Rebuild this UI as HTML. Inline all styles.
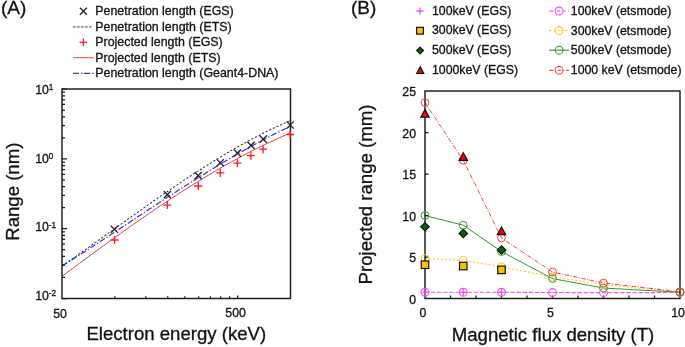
<!DOCTYPE html>
<html><head><meta charset="utf-8"><style>
html,body{margin:0;padding:0;background:#fff;}
body{width:685px;height:347px;overflow:hidden;font-family:"Liberation Sans",sans-serif;}
svg{display:block;will-change:transform;}
text{stroke:#111;stroke-width:0.3px;}
</style></head><body>
<svg width="685" height="347" viewBox="0 0 685 347">
<defs><clipPath id="clipA"><rect x="62.0" y="89.0" width="228.5" height="209.5"/></clipPath></defs>
<rect width="685" height="347" fill="#fff"/>
<text x="0.9" y="14.1" font-size="19" font-family="'Liberation Sans', sans-serif" fill="#111">(A)</text>
<text x="351" y="14.1" font-size="19" font-family="'Liberation Sans', sans-serif" fill="#111">(B)</text>
<text x="95.3" y="15.4" font-size="12.4" font-family="'Liberation Sans', sans-serif" fill="#111">Penetration length (EGS)</text>
<text x="95.3" y="30.7" font-size="12.4" font-family="'Liberation Sans', sans-serif" fill="#111">Penetration length (ETS)</text>
<text x="95.3" y="46.1" font-size="12.4" font-family="'Liberation Sans', sans-serif" fill="#111">Projected length (EGS)</text>
<text x="95.3" y="61.5" font-size="12.4" font-family="'Liberation Sans', sans-serif" fill="#111">Projected length (ETS)</text>
<text x="95.3" y="77.0" font-size="12.4" font-family="'Liberation Sans', sans-serif" fill="#111">Penetration length (Geant4-DNA)</text>
<path d="M79.90,7.80L86.90,14.80M79.90,14.80L86.90,7.80" stroke="#222" stroke-width="1.3" fill="none"/>
<line x1="73.2" y1="26.9" x2="91.4" y2="26.9" stroke="#555" stroke-width="1.1" stroke-dasharray="2.4,1.6"/>
<path d="M79.60,42.40L87.20,42.40M83.40,38.60L83.40,46.20" stroke="#ff1a1a" stroke-width="1.3" fill="none"/>
<line x1="73.2" y1="57.6" x2="93.6" y2="57.6" stroke="#ee6a6a" stroke-width="1.3"/>
<line x1="73.0" y1="73.4" x2="93.6" y2="73.4" stroke="#3535f0" stroke-width="1.2" stroke-dasharray="6,2,1.3,1.9"/>
<g clip-path="url(#clipA)">
<polyline points="62.00,266.00 67.86,261.93 73.72,257.82 79.58,253.70 85.44,249.55 91.29,245.39 97.15,241.21 103.01,237.03 108.87,232.84 114.73,228.65 120.59,224.46 126.45,220.28 132.31,216.10 138.17,211.94 144.03,207.80 149.88,203.68 155.74,199.58 161.60,195.51 167.46,191.48 173.32,187.47 179.18,183.51 185.04,179.59 190.90,175.72 196.76,171.90 202.62,168.13 208.47,164.42 214.33,160.77 220.19,157.19 226.05,153.67 231.91,150.23 237.77,146.87 243.63,143.58 249.49,140.38 255.35,137.26 261.21,134.24 267.06,131.31 272.92,128.48 278.78,125.76 284.64,123.13 290.50,120.62" fill="none" stroke="#3a3a3a" stroke-width="1.05" stroke-dasharray="2.2,1.8"/>
<polyline points="62.00,266.00 67.86,262.33 73.72,258.63 79.58,254.90 85.44,251.14 91.29,247.35 97.15,243.54 103.01,239.72 108.87,235.88 114.73,232.03 120.59,228.17 126.45,224.30 132.31,220.43 138.17,216.56 144.03,212.70 149.88,208.84 155.74,204.99 161.60,201.15 167.46,197.33 173.32,193.53 179.18,189.75 185.04,186.00 190.90,182.27 196.76,178.58 202.62,174.92 208.47,171.30 214.33,167.71 220.19,164.18 226.05,160.69 231.91,157.25 237.77,153.86 243.63,150.53 249.49,147.26 255.35,144.05 261.21,140.91 267.06,137.83 272.92,134.83 278.78,131.90 284.64,129.05 290.50,126.28" fill="none" stroke="#3030f5" stroke-width="1.2" stroke-dasharray="6,2,1.3,1.9"/>
<polyline points="62.00,276.30 67.86,271.95 73.72,267.60 79.58,263.27 85.44,258.95 91.29,254.64 97.15,250.35 103.01,246.09 108.87,241.84 114.73,237.62 120.59,233.42 126.45,229.25 132.31,225.11 138.17,221.01 144.03,216.94 149.88,212.91 155.74,208.91 161.60,204.96 167.46,201.05 173.32,197.19 179.18,193.38 185.04,189.61 190.90,185.90 196.76,182.25 202.62,178.65 208.47,175.11 214.33,171.63 220.19,168.21 226.05,164.86 231.91,161.58 237.77,158.37 243.63,155.23 249.49,152.17 255.35,149.18 261.21,146.27 267.06,143.44 272.92,140.70 278.78,138.04 284.64,135.47 290.50,132.98" fill="none" stroke="#ee4040" stroke-width="1.0"/>
</g>
<rect x="62.0" y="89.0" width="228.5" height="209.5" fill="none" stroke="#1a1a1a" stroke-width="1.45"/>
<path d="M62.0,298.50h5 M62.0,277.48h3 M62.0,265.18h3 M62.0,256.46h3 M62.0,249.69h3 M62.0,244.16h3 M62.0,239.48h3 M62.0,235.43h3 M62.0,231.86h3 M62.0,228.67h5 M62.0,207.64h3 M62.0,195.35h3 M62.0,186.62h3 M62.0,179.86h3 M62.0,174.33h3 M62.0,169.65h3 M62.0,165.60h3 M62.0,162.03h3 M62.0,158.83h5 M62.0,137.81h3 M62.0,125.51h3 M62.0,116.79h3 M62.0,110.02h3 M62.0,104.49h3 M62.0,99.82h3 M62.0,95.77h3 M62.0,92.20h3 M62.0,89.0h5 M114.87,298.5v-2.2 M145.80,298.5v-2.2 M167.74,298.5v-2.2 M184.76,298.5v-2.2 M198.67,298.5v-2.2 M210.42,298.5v-2.2 M220.61,298.5v-2.2 M229.59,298.5v-2.2 M237.63,298.5v-3" stroke="#1a1a1a" stroke-width="1.25" fill="none"/>
<path d="M110.80,225.70L118.00,232.90M110.80,232.90L118.00,225.70" stroke="#222" stroke-width="1.3" fill="none"/>
<path d="M163.70,191.00L170.90,198.20M163.70,198.20L170.90,191.00" stroke="#222" stroke-width="1.3" fill="none"/>
<path d="M194.60,172.00L201.80,179.20M194.60,179.20L201.80,172.00" stroke="#222" stroke-width="1.3" fill="none"/>
<path d="M216.70,159.10L223.90,166.30M216.70,166.30L223.90,159.10" stroke="#222" stroke-width="1.3" fill="none"/>
<path d="M233.80,149.50L241.00,156.70M233.80,156.70L241.00,149.50" stroke="#222" stroke-width="1.3" fill="none"/>
<path d="M247.40,141.80L254.60,149.00M247.40,149.00L254.60,141.80" stroke="#222" stroke-width="1.3" fill="none"/>
<path d="M259.60,135.50L266.80,142.70M259.60,142.70L266.80,135.50" stroke="#222" stroke-width="1.3" fill="none"/>
<path d="M286.60,121.40L293.80,128.60M286.60,128.60L293.80,121.40" stroke="#222" stroke-width="1.3" fill="none"/>
<path d="M110.60,240.00L118.60,240.00M114.60,236.00L114.60,244.00" stroke="#ff1a1a" stroke-width="1.3" fill="none"/>
<path d="M163.30,205.10L171.30,205.10M167.30,201.10L167.30,209.10" stroke="#ff1a1a" stroke-width="1.3" fill="none"/>
<path d="M194.30,186.00L202.30,186.00M198.30,182.00L198.30,190.00" stroke="#ff1a1a" stroke-width="1.3" fill="none"/>
<path d="M216.30,172.90L224.30,172.90M220.30,168.90L220.30,176.90" stroke="#ff1a1a" stroke-width="1.3" fill="none"/>
<path d="M233.40,163.20L241.40,163.20M237.40,159.20L237.40,167.20" stroke="#ff1a1a" stroke-width="1.3" fill="none"/>
<path d="M246.90,155.70L254.90,155.70M250.90,151.70L250.90,159.70" stroke="#ff1a1a" stroke-width="1.3" fill="none"/>
<path d="M259.10,149.20L267.10,149.20M263.10,145.20L263.10,153.20" stroke="#ff1a1a" stroke-width="1.3" fill="none"/>
<path d="M286.20,134.50L294.20,134.50M290.20,130.50L290.20,138.50" stroke="#ff1a1a" stroke-width="1.3" fill="none"/>
<text x="35.2" y="93.6" font-size="12.3" font-family="'Liberation Sans', sans-serif" fill="#111">10</text>
<text x="48.7" y="89.69999999999999" font-size="8.2" font-family="'Liberation Sans', sans-serif" fill="#111">1</text>
<text x="35.2" y="162.5" font-size="12.3" font-family="'Liberation Sans', sans-serif" fill="#111">10</text>
<text x="48.7" y="158.6" font-size="8.2" font-family="'Liberation Sans', sans-serif" fill="#111">0</text>
<text x="35.2" y="231.4" font-size="12.3" font-family="'Liberation Sans', sans-serif" fill="#111">10</text>
<text x="48.7" y="227.5" font-size="8.2" font-family="'Liberation Sans', sans-serif" fill="#111">-1</text>
<text x="35.2" y="300.3" font-size="12.3" font-family="'Liberation Sans', sans-serif" fill="#111">10</text>
<text x="48.7" y="296.40000000000003" font-size="8.2" font-family="'Liberation Sans', sans-serif" fill="#111">-2</text>
<text x="60" y="317.5" font-size="12.3" text-anchor="middle" font-family="'Liberation Sans', sans-serif" fill="#111">50</text>
<text x="235.6" y="317.3" font-size="12.3" text-anchor="middle" font-family="'Liberation Sans', sans-serif" fill="#111">500</text>
<text x="176.3" y="340" font-size="18.6" text-anchor="middle" font-family="'Liberation Sans', sans-serif" fill="#111">Electron energy (keV)</text>
<text transform="translate(18.6,191.7) rotate(-90)" x="0" y="0" font-size="18.6" text-anchor="middle" font-family="'Liberation Sans', sans-serif" fill="#111">Range (nm)</text>
<text x="432" y="14.9" font-size="12.3" font-family="'Liberation Sans', sans-serif" fill="#111">100keV (EGS)</text>
<text x="432" y="34.4" font-size="12.3" font-family="'Liberation Sans', sans-serif" fill="#111">300keV (EGS)</text>
<text x="432" y="54.4" font-size="12.3" font-family="'Liberation Sans', sans-serif" fill="#111">500keV (EGS)</text>
<text x="432" y="74.2" font-size="12.3" font-family="'Liberation Sans', sans-serif" fill="#111">1000keV (EGS)</text>
<text x="570.8" y="15.0" font-size="12.3" font-family="'Liberation Sans', sans-serif" fill="#111">100keV (etsmode)</text>
<text x="570.8" y="34.6" font-size="12.3" font-family="'Liberation Sans', sans-serif" fill="#111">300keV (etsmode)</text>
<text x="570.8" y="54.4" font-size="12.3" font-family="'Liberation Sans', sans-serif" fill="#111">500keV (etsmode)</text>
<text x="570.8" y="74.2" font-size="12.3" font-family="'Liberation Sans', sans-serif" fill="#111">1000 keV (etsmode)</text>
<path d="M416.50,11.00L423.50,11.00M420.00,7.50L420.00,14.50" stroke="#f050f0" stroke-width="1.3" fill="none"/>
<rect x="416.60" y="27.30" width="6.8" height="6.8" fill="#ffc000" stroke="#111" stroke-width="1.2"/>
<path d="M420.10,47.20L423.50,50.60L420.10,54.00L416.70,50.60Z" fill="#006a00" stroke="#111" stroke-width="1.2"/>
<path d="M420.20,66.90L423.70,73.50L416.70,73.50Z" fill="#ff0000" stroke="#111" stroke-width="1.2" stroke-linejoin="miter"/>
<line x1="549" y1="11.0" x2="553.5" y2="11.0" stroke="#f050f0" stroke-width="1.1"/>
<line x1="556.7" y1="11.0" x2="560.2" y2="11.0" stroke="#f050f0" stroke-width="1.1"/>
<line x1="563.4" y1="11.0" x2="565.8" y2="11.0" stroke="#f050f0" stroke-width="1.1"/>
<line x1="567.8" y1="11.0" x2="569.0" y2="11.0" stroke="#f050f0" stroke-width="1.1"/>
<circle cx="559.10" cy="11.00" r="3.9" fill="none" stroke="#f050f0" stroke-width="1.1"/>
<line x1="549" y1="30.5" x2="551" y2="30.5" stroke="#f8cc2a" stroke-width="1.1"/>
<line x1="553.3" y1="30.5" x2="555.5" y2="30.5" stroke="#f8cc2a" stroke-width="1.1"/>
<line x1="557.3" y1="30.5" x2="559.3" y2="30.5" stroke="#f8cc2a" stroke-width="1.1"/>
<line x1="561.1" y1="30.5" x2="562.5" y2="30.5" stroke="#f8cc2a" stroke-width="1.1"/>
<line x1="564.6" y1="30.5" x2="567" y2="30.5" stroke="#f8cc2a" stroke-width="1.1"/>
<circle cx="559.10" cy="30.50" r="3.9" fill="none" stroke="#f8cc2a" stroke-width="1.1"/>
<line x1="549" y1="50.2" x2="569.2" y2="50.2" stroke="#339933" stroke-width="1.1"/>
<circle cx="559.10" cy="50.20" r="3.9" fill="none" stroke="#339933" stroke-width="1.1"/>
<line x1="549" y1="70.3" x2="553.5" y2="70.3" stroke="#f04848" stroke-width="1.1"/>
<line x1="555" y1="70.3" x2="555.8" y2="70.3" stroke="#f04848" stroke-width="1.1"/>
<line x1="557.7" y1="70.3" x2="561.3" y2="70.3" stroke="#f04848" stroke-width="1.1"/>
<line x1="563.4" y1="70.3" x2="564.2" y2="70.3" stroke="#f04848" stroke-width="1.1"/>
<line x1="566" y1="70.3" x2="569.2" y2="70.3" stroke="#f04848" stroke-width="1.1"/>
<circle cx="559.10" cy="70.30" r="3.9" fill="none" stroke="#f04848" stroke-width="1.1"/>
<g>
<polyline points="425.00,292.27 463.25,292.27 501.50,292.27 552.50,292.52 603.50,292.69 680.00,292.52" fill="none" stroke="#f050f0" stroke-width="1.1" stroke-dasharray="4.4,1.7"/>
<polyline points="425.00,258.41 463.25,260.32 501.50,266.79 552.50,276.92 603.50,284.64 680.00,292.27" fill="none" stroke="#f8cc2a" stroke-width="1.1" stroke-dasharray="2,2"/>
<polyline points="425.00,215.50 463.25,225.21 501.50,251.60 552.50,278.58 603.50,288.04 680.00,292.27" fill="none" stroke="#339933" stroke-width="1.0"/>
<polyline points="425.00,102.62 463.25,160.31 501.50,237.91 552.50,272.02 603.50,282.98 680.00,291.69" fill="none" stroke="#f04848" stroke-width="1.0" stroke-dasharray="4.5,1.5,1,1.5"/>
</g>
<rect x="425.0" y="91.0" width="255.0" height="207.5" fill="none" stroke="#1a1a1a" stroke-width="1.45"/>
<path d="M425.0,257.00h3.5 M425.0,215.50h3.5 M425.0,174.00h3.5 M425.0,132.50h3.5 M450.50,298.5v-3 M476.00,298.5v-3 M501.50,298.5v-3 M527.00,298.5v-3 M552.50,298.5v-3 M578.00,298.5v-3 M603.50,298.5v-3 M629.00,298.5v-3 M654.50,298.5v-3" stroke="#1a1a1a" stroke-width="1.25" fill="none"/>
<circle cx="425.00" cy="292.27" r="3.9" fill="none" stroke="#f050f0" stroke-width="1.1"/>
<circle cx="463.25" cy="292.27" r="3.9" fill="none" stroke="#f050f0" stroke-width="1.1"/>
<circle cx="501.50" cy="292.27" r="3.9" fill="none" stroke="#f050f0" stroke-width="1.1"/>
<circle cx="552.50" cy="292.52" r="3.9" fill="none" stroke="#f050f0" stroke-width="1.1"/>
<circle cx="603.50" cy="292.69" r="3.9" fill="none" stroke="#f050f0" stroke-width="1.1"/>
<circle cx="680.00" cy="292.52" r="3.9" fill="none" stroke="#f050f0" stroke-width="1.1"/>
<circle cx="425.00" cy="258.41" r="3.9" fill="none" stroke="#f8cc2a" stroke-width="1.0"/>
<circle cx="463.25" cy="260.32" r="3.9" fill="none" stroke="#f8cc2a" stroke-width="1.0"/>
<circle cx="501.50" cy="266.79" r="3.9" fill="none" stroke="#f8cc2a" stroke-width="1.0"/>
<circle cx="552.50" cy="276.92" r="3.9" fill="none" stroke="#f8cc2a" stroke-width="1.0"/>
<circle cx="603.50" cy="284.64" r="3.9" fill="none" stroke="#f8cc2a" stroke-width="1.0"/>
<circle cx="680.00" cy="292.27" r="3.9" fill="none" stroke="#f8cc2a" stroke-width="1.0"/>
<circle cx="425.00" cy="215.50" r="3.9" fill="none" stroke="#339933" stroke-width="1.0"/>
<circle cx="463.25" cy="225.21" r="3.9" fill="none" stroke="#339933" stroke-width="1.0"/>
<circle cx="501.50" cy="251.60" r="3.9" fill="none" stroke="#339933" stroke-width="1.0"/>
<circle cx="552.50" cy="278.58" r="3.9" fill="none" stroke="#339933" stroke-width="1.0"/>
<circle cx="603.50" cy="288.04" r="3.9" fill="none" stroke="#339933" stroke-width="1.0"/>
<circle cx="680.00" cy="292.27" r="3.9" fill="none" stroke="#339933" stroke-width="1.0"/>
<circle cx="425.00" cy="102.62" r="3.9" fill="none" stroke="#f04848" stroke-width="1.0"/>
<circle cx="463.25" cy="160.31" r="3.9" fill="none" stroke="#f04848" stroke-width="1.0"/>
<circle cx="501.50" cy="237.91" r="3.9" fill="none" stroke="#f04848" stroke-width="1.0"/>
<circle cx="552.50" cy="272.02" r="3.9" fill="none" stroke="#f04848" stroke-width="1.0"/>
<circle cx="603.50" cy="282.98" r="3.9" fill="none" stroke="#f04848" stroke-width="1.0"/>
<circle cx="680.00" cy="291.69" r="3.9" fill="none" stroke="#f04848" stroke-width="1.0"/>
<path d="M421.00,292.27L429.00,292.27M425.00,288.27L425.00,296.27" stroke="#f050f0" stroke-width="1.2" fill="none"/>
<path d="M459.25,292.27L467.25,292.27M463.25,288.27L463.25,296.27" stroke="#f050f0" stroke-width="1.2" fill="none"/>
<path d="M497.50,292.27L505.50,292.27M501.50,288.27L501.50,296.27" stroke="#f050f0" stroke-width="1.2" fill="none"/>
<rect x="421.25" y="260.97" width="7.5" height="7.5" fill="#ffc000" stroke="#111" stroke-width="1.2"/>
<rect x="459.50" y="262.30" width="7.5" height="7.5" fill="#ffc000" stroke="#111" stroke-width="1.2"/>
<rect x="497.75" y="266.12" width="7.5" height="7.5" fill="#ffc000" stroke="#111" stroke-width="1.2"/>
<path d="M425.00,222.59L429.20,226.79L425.00,230.99L420.80,226.79Z" fill="#006a00" stroke="#111" stroke-width="1.2"/>
<path d="M463.25,229.31L467.45,233.51L463.25,237.71L459.05,233.51Z" fill="#006a00" stroke="#111" stroke-width="1.2"/>
<path d="M501.50,245.75L505.70,249.94L501.50,254.14L497.30,249.94Z" fill="#006a00" stroke="#111" stroke-width="1.2"/>
<path d="M425.00,109.61L429.20,117.21L420.80,117.21Z" fill="#ff0000" stroke="#111" stroke-width="1.2" stroke-linejoin="miter"/>
<path d="M463.25,152.77L467.45,160.37L459.05,160.37Z" fill="#ff0000" stroke="#111" stroke-width="1.2" stroke-linejoin="miter"/>
<path d="M501.50,227.06L505.70,234.66L497.30,234.66Z" fill="#ff0000" stroke="#111" stroke-width="1.2" stroke-linejoin="miter"/>
<text x="416" y="303.80" font-size="12.3" text-anchor="end" font-family="'Liberation Sans', sans-serif" fill="#111">0</text>
<text x="416" y="262.30" font-size="12.3" text-anchor="end" font-family="'Liberation Sans', sans-serif" fill="#111">5</text>
<text x="416" y="220.80" font-size="12.3" text-anchor="end" font-family="'Liberation Sans', sans-serif" fill="#111">10</text>
<text x="416" y="179.30" font-size="12.3" text-anchor="end" font-family="'Liberation Sans', sans-serif" fill="#111">15</text>
<text x="416" y="137.80" font-size="12.3" text-anchor="end" font-family="'Liberation Sans', sans-serif" fill="#111">20</text>
<text x="416" y="96.30" font-size="12.3" text-anchor="end" font-family="'Liberation Sans', sans-serif" fill="#111">25</text>
<text x="423.00" y="317" font-size="12.3" text-anchor="middle" font-family="'Liberation Sans', sans-serif" fill="#111">0</text>
<text x="550.50" y="317" font-size="12.3" text-anchor="middle" font-family="'Liberation Sans', sans-serif" fill="#111">5</text>
<text x="678.00" y="317" font-size="12.3" text-anchor="middle" font-family="'Liberation Sans', sans-serif" fill="#111">10</text>
<text x="553" y="341" font-size="18.6" text-anchor="middle" font-family="'Liberation Sans', sans-serif" fill="#111">Magnetic flux density (T)</text>
<text transform="translate(372,194.5) rotate(-90)" x="0" y="0" font-size="18.6" text-anchor="middle" font-family="'Liberation Sans', sans-serif" fill="#111">Projected range (mm)</text>
</svg>
</body></html>
